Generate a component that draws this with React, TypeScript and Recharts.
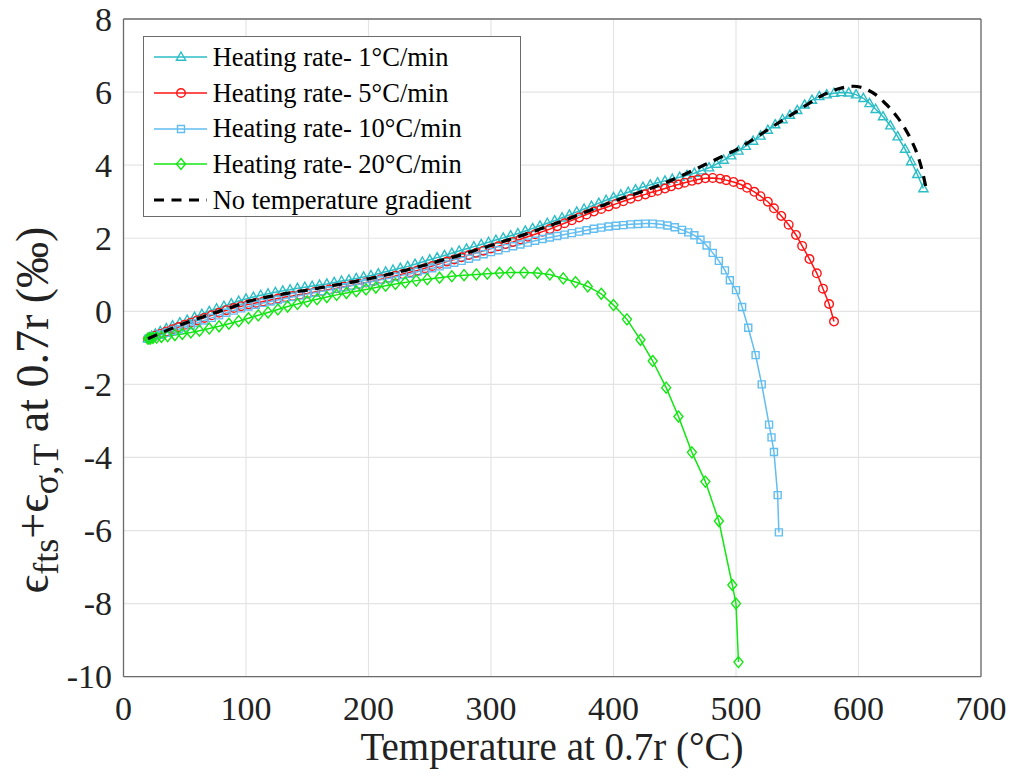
import React from 'react';
import { LineChart, Line, XAxis, YAxis, CartesianGrid, Legend } from 'recharts';

// Heating rate 1 °C/min (cyan, triangles)
const rate1Temp = [20, 21, 23, 26, 30, 35, 40, 46, 52, 58, 64, 70, 76, 82, 88, 94, 100, 106, 112, 118, 124, 130, 136, 142, 148, 154, 160, 166, 172, 178, 184, 190, 196, 202, 208, 214, 220, 226, 232, 238, 244, 250, 256, 262, 268, 274, 280, 286, 292, 298, 304, 310, 316, 322, 328, 334, 340, 346, 352, 358, 364, 370, 376, 382, 388, 394, 400, 406, 412, 418, 424, 430, 436, 442, 448, 454, 460, 466, 472, 478, 484, 490, 496, 502, 508, 514, 520, 526, 532, 538, 544, 550, 556, 562, 568, 574, 580, 586, 592, 598, 604, 609, 614, 620, 626, 632, 638, 643, 648, 653];
const rate1Strain = [-0.75, -0.72, -0.68, -0.62, -0.55, -0.47, -0.39, -0.31, -0.24, -0.16, -0.08, 0.0, 0.07, 0.14, 0.21, 0.28, 0.34, 0.39, 0.44, 0.48, 0.52, 0.56, 0.59, 0.63, 0.66, 0.69, 0.72, 0.75, 0.79, 0.83, 0.86, 0.9, 0.94, 0.98, 1.03, 1.08, 1.13, 1.18, 1.23, 1.29, 1.35, 1.41, 1.47, 1.53, 1.59, 1.65, 1.71, 1.77, 1.83, 1.89, 1.95, 2.01, 2.07, 2.13, 2.2, 2.27, 2.34, 2.41, 2.48, 2.56, 2.64, 2.72, 2.8, 2.88, 2.96, 3.04, 3.12, 3.19, 3.26, 3.33, 3.4, 3.46, 3.52, 3.57, 3.62, 3.67, 3.72, 3.78, 3.85, 3.93, 4.03, 4.14, 4.26, 4.39, 4.52, 4.66, 4.8, 4.96, 5.11, 5.25, 5.37, 5.5, 5.65, 5.78, 5.88, 5.93, 5.97, 5.99, 5.98, 5.93, 5.83, 5.69, 5.53, 5.33, 5.08, 4.78, 4.44, 4.1, 3.75, 3.36];

// Heating rate 5 °C/min (red, circles)
const rate5Temp = [20, 21, 23, 26, 30, 35, 40, 45, 50, 55, 60, 66, 72, 78, 84, 90, 96, 102, 108, 114, 120, 126, 132, 138, 144, 150, 156, 162, 168, 174, 180, 186, 192, 198, 204, 210, 216, 222, 228, 234, 240, 246, 252, 258, 264, 270, 276, 282, 288, 294, 300, 306, 312, 318, 324, 330, 336, 342, 348, 354, 360, 366, 372, 378, 384, 390, 396, 402, 408, 414, 420, 426, 431, 436, 442, 447, 453, 458, 464, 469, 475, 481, 487, 492, 498, 504, 509, 515, 520, 526, 531, 537, 543, 549, 554, 560, 566, 571, 576, 580];
const rate5Strain = [-0.75, -0.73, -0.71, -0.67, -0.62, -0.55, -0.49, -0.43, -0.37, -0.31, -0.25, -0.18, -0.11, -0.04, 0.03, 0.09, 0.14, 0.19, 0.23, 0.27, 0.31, 0.35, 0.39, 0.42, 0.46, 0.49, 0.53, 0.56, 0.6, 0.63, 0.67, 0.71, 0.75, 0.79, 0.83, 0.88, 0.92, 0.97, 1.02, 1.07, 1.12, 1.18, 1.24, 1.3, 1.36, 1.42, 1.48, 1.54, 1.6, 1.66, 1.72, 1.78, 1.84, 1.9, 1.97, 2.04, 2.11, 2.18, 2.25, 2.33, 2.41, 2.49, 2.57, 2.65, 2.73, 2.8, 2.87, 2.94, 3.01, 3.08, 3.14, 3.2, 3.26, 3.3, 3.36, 3.42, 3.47, 3.52, 3.57, 3.61, 3.64, 3.65, 3.63, 3.59, 3.54, 3.47, 3.38, 3.27, 3.15, 3.0, 2.82, 2.61, 2.37, 2.09, 1.79, 1.43, 1.04, 0.62, 0.2, -0.28];

// Heating rate 10 °C/min (light blue, squares)
const rate10Temp = [20, 21, 23, 26, 30, 35, 40, 45, 50, 55, 60, 66, 72, 78, 84, 90, 96, 102, 108, 114, 120, 126, 132, 138, 144, 150, 156, 162, 168, 174, 180, 186, 192, 198, 204, 210, 216, 222, 228, 234, 240, 246, 252, 258, 264, 270, 276, 282, 288, 294, 300, 306, 312, 318, 324, 330, 336, 342, 348, 354, 360, 366, 372, 378, 384, 390, 396, 402, 408, 414, 420, 426, 432, 438, 444, 450, 456, 461, 466, 471, 476, 481, 486, 491, 495, 500, 505, 510, 516, 521, 527, 529, 531, 534, 535];
const rate10Strain = [-0.75, -0.74, -0.71, -0.68, -0.64, -0.59, -0.54, -0.49, -0.44, -0.38, -0.32, -0.25, -0.18, -0.11, -0.04, 0.02, 0.08, 0.13, 0.18, 0.23, 0.27, 0.31, 0.35, 0.39, 0.43, 0.47, 0.51, 0.55, 0.58, 0.62, 0.66, 0.7, 0.74, 0.78, 0.82, 0.86, 0.9, 0.94, 0.99, 1.03, 1.08, 1.13, 1.18, 1.23, 1.28, 1.33, 1.38, 1.44, 1.5, 1.56, 1.62, 1.67, 1.73, 1.78, 1.83, 1.88, 1.93, 1.98, 2.02, 2.06, 2.1, 2.14, 2.18, 2.22, 2.26, 2.29, 2.32, 2.34, 2.36, 2.38, 2.39, 2.4, 2.4, 2.38, 2.35, 2.3, 2.23, 2.16, 2.08, 1.96, 1.8, 1.6, 1.38, 1.12, 0.85, 0.58, 0.12, -0.45, -1.2, -2.0, -3.1, -3.45, -3.85, -5.03, -6.05];

// Heating rate 20 °C/min (green, diamonds)
const rate20Temp = [20, 21, 22, 24, 27, 31, 36, 42, 48, 55, 62, 70, 78, 86, 94, 102, 110, 118, 126, 134, 142, 150, 158, 166, 174, 182, 190, 198, 206, 214, 222, 230, 239, 248, 258, 268, 278, 288, 297, 307, 316, 327, 338, 348, 359, 369, 379, 390, 400, 411, 422, 432, 443, 453, 464, 475, 486, 497, 500, 502];
const rate20Strain = [-0.75, -0.74, -0.74, -0.73, -0.72, -0.7, -0.68, -0.65, -0.62, -0.58, -0.53, -0.47, -0.41, -0.34, -0.27, -0.19, -0.11, -0.03, 0.05, 0.13, 0.2, 0.27, 0.33, 0.39, 0.45, 0.5, 0.55, 0.6, 0.65, 0.7, 0.75, 0.79, 0.84, 0.88, 0.92, 0.96, 0.99, 1.01, 1.03, 1.05, 1.06, 1.06, 1.05, 1.01, 0.9, 0.8, 0.68, 0.48, 0.17, -0.22, -0.78, -1.36, -2.09, -2.88, -3.86, -4.66, -5.74, -7.49, -8.0, -9.6];

// No temperature gradient (black dashed)
const refTemp = [20, 30, 40, 50, 60, 70, 80, 90, 100, 110, 120, 130, 140, 150, 160, 170, 180, 190, 200, 210, 220, 230, 240, 250, 260, 270, 280, 290, 300, 310, 320, 330, 340, 350, 360, 370, 380, 390, 400, 410, 420, 430, 440, 450, 460, 470, 480, 490, 500, 510, 520, 530, 540, 550, 560, 570, 580, 590, 596, 602, 608, 614, 620, 626, 632, 638, 644, 648, 652, 655];
const refStrain = [-0.75, -0.6, -0.46, -0.33, -0.21, -0.09, 0.02, 0.13, 0.25, 0.34, 0.41, 0.47, 0.53, 0.58, 0.64, 0.7, 0.76, 0.82, 0.89, 0.96, 1.04, 1.12, 1.21, 1.3, 1.4, 1.49, 1.59, 1.7, 1.8, 1.91, 2.02, 2.13, 2.25, 2.37, 2.49, 2.62, 2.75, 2.88, 3.01, 3.13, 3.24, 3.36, 3.49, 3.63, 3.78, 3.94, 4.1, 4.26, 4.42, 4.62, 4.84, 5.06, 5.27, 5.48, 5.7, 5.9, 6.05, 6.14, 6.16, 6.13, 6.05, 5.93, 5.75, 5.55, 5.3, 5.0, 4.62, 4.3, 3.85, 3.4];

const xTicks = [0, 100, 200, 300, 400, 500, 600, 700];
const yTicks = [-10, -8, -6, -4, -2, 0, 2, 4, 6, 8];

const zip = (t: number[], v: number[]) => t.map((x, i) => ({ t: x, y: v[i] }));

const rate1Data = zip(rate1Temp, rate1Strain);
const rate5Data = zip(rate5Temp, rate5Strain);
const rate10Data = zip(rate10Temp, rate10Strain);
const rate20Data = zip(rate20Temp, rate20Strain);
const refData = zip(refTemp, refStrain);

const SERIF = '"Liberation Serif", "Times New Roman", serif';
const FRAME = '#6b6b6b';
const TEXT = '#222';

const CYAN = '#2cbdc6';
const RED = '#ff1414';
const LIGHTBLUE = '#62bdf0';
const GREEN = '#14e614';

const W = 1016;
const H = 778;
const MARGIN = { top: 19, right: 35, bottom: 41.3, left: 0 };

type Shape = 'triangle' | 'circle' | 'square' | 'diamond';

const markerPath = (shape: Shape, cx: number, cy: number) => {
  switch (shape) {
    case 'triangle':
      return `M${cx},${cy - 5} L${cx + 4.6},${cy + 3.2} L${cx - 4.6},${cy + 3.2} Z`;
    case 'square':
      return `M${cx - 3.5},${cy - 3.5} h7 v7 h-7 Z`;
    case 'diamond':
      return `M${cx},${cy - 5.5} L${cx + 4.5},${cy} L${cx},${cy + 5.5} L${cx - 4.5},${cy} Z`;
    default:
      return `M${cx - 4.3},${cy} a4.3,4.3 0 1,0 8.6,0 a4.3,4.3 0 1,0 -8.6,0`;
  }
};

const makeDot = (shape: Shape, color: string) => (props: any) => {
  const { cx, cy, index } = props;
  if (cx == null || cy == null) return <g key={`m-${index}`} />;
  return <path key={`m-${index}`} d={markerPath(shape, cx, cy)} fill="none" stroke={color} strokeWidth={1.4} />;
};

const legendRows = [
  { label: 'Heating rate- 1°C/min', color: CYAN, shape: 'triangle' as Shape },
  { label: 'Heating rate- 5°C/min', color: RED, shape: 'circle' as Shape },
  { label: 'Heating rate- 10°C/min', color: LIGHTBLUE, shape: 'square' as Shape },
  { label: 'Heating rate- 20°C/min', color: GREEN, shape: 'diamond' as Shape },
  { label: 'No temperature gradient', color: '#000', shape: null },
];

const LegendBox = () => (
  <div
    style={{
      width: 378,
      height: 181,
      boxSizing: 'border-box',
      border: `1.3px solid ${FRAME}`,
      background: '#fff',
      paddingTop: 3,
      fontFamily: SERIF,
      fontSize: 26.5,
      color: '#000',
    }}
  >
    {legendRows.map((r) => (
      <div key={r.label} style={{ height: 35.6, display: 'flex', alignItems: 'center' }}>
        <svg width={69} height={20} style={{ flex: 'none' }}>
          {r.shape ? (
            <>
              <line x1={10} y1={10} x2={63} y2={10} stroke={r.color} strokeWidth={1.5} />
              <path d={markerPath(r.shape, 37, 10)} fill="none" stroke={r.color} strokeWidth={1.4} />
            </>
          ) : (
            <line x1={10} y1={10} x2={63} y2={10} stroke="#000" strokeWidth={3.2} strokeDasharray="10 7.5" />
          )}
        </svg>
        <span style={{ whiteSpace: 'nowrap', lineHeight: 1 }}>{r.label}</span>
      </div>
    ))}
  </div>
);

const LAT = 'Liberation Serif';

const YLabel = () => (
  <text
    x={48}
    y={410}
    transform="rotate(-90, 48, 410)"
    textAnchor="middle"
    fontFamily={LAT}
    fontSize={46}
    fill={TEXT}
  >
    <tspan fontFamily={LAT}>ϵ</tspan>
    <tspan fontFamily={LAT} fontSize={36} dy={10}>fts</tspan>
    <tspan fontFamily={LAT} dy={-10}>+ϵ</tspan>
    <tspan fontFamily={LAT} fontSize={36} dy={10}>σ,T</tspan>
    <tspan fontFamily={LAT} dy={-10}> at 0.7r (‰)</tspan>
  </text>
);

const XLabel = () => (
  <text x={552} y={760} textAnchor="middle" style={{ fontFamily: SERIF, fontSize: 39, fill: TEXT }}>
    Temperature at 0.7r (°C)
  </text>
);

const XTick = (props: any) => (
  <text x={props.x} y={props.y} dy="0.71em" textAnchor="middle" style={{ fontFamily: SERIF, fontSize: 34, fill: TEXT }}>
    {props.payload.value}
  </text>
);

const YTick = (props: any) => (
  <text x={props.x} y={props.y} dy="0.34em" textAnchor="end" style={{ fontFamily: SERIF, fontSize: 34, fill: TEXT }}>
    {props.payload.value}
  </text>
);

const frameLine = { stroke: FRAME, strokeWidth: 1.3 };

export default function App() {
  return (
    <div style={{ position: 'absolute', left: 0, top: 0, width: W, height: H, background: '#fff' }}>
      <div style={{ position: 'absolute', left: 0, top: 0 }}>
        <LineChart width={W} height={H} margin={MARGIN}>
          <CartesianGrid stroke="#e4e4e4" strokeWidth={1.2} />
          <XAxis
            dataKey="t"
            type="number"
            domain={[0, 700]}
            ticks={xTicks}
            allowDataOverflow
            tickLine={false}
            axisLine={false}
            tickSize={0}
            tickMargin={19}
            height={60}
            tick={<XTick />}
            label={{ content: () => <XLabel /> }}
          />
          <XAxis xAxisId="xb" type="number" domain={[0, 700]} ticks={xTicks} mirror tick={false} tickSize={8}
            tickLine={frameLine} axisLine={frameLine} />
          <XAxis xAxisId="xt" orientation="top" type="number" domain={[0, 700]} ticks={xTicks} mirror tick={false} tickSize={8}
            tickLine={frameLine} axisLine={frameLine} />
          <YAxis
            type="number"
            domain={[-10, 8]}
            ticks={yTicks}
            allowDataOverflow
            tickLine={false}
            axisLine={false}
            tickSize={0}
            tickMargin={11.5}
            width={123.5}
            tick={<YTick />}
            label={{ content: () => <YLabel /> }}
          />
          <YAxis yAxisId="yl" type="number" domain={[-10, 8]} ticks={yTicks} mirror tick={false} tickSize={8}
            tickLine={frameLine} axisLine={frameLine} />
          <YAxis yAxisId="yr" orientation="right" type="number" domain={[-10, 8]} ticks={yTicks} mirror tick={false} tickSize={8}
            tickLine={frameLine} axisLine={frameLine} />

          <Line name="Heating rate- 1°C/min" data={rate1Data} dataKey="y" type="linear" stroke={CYAN} strokeWidth={1.5}
            dot={makeDot('triangle', CYAN)} activeDot={false} isAnimationActive={false} />
          <Line name="Heating rate- 5°C/min" data={rate5Data} dataKey="y" type="linear" stroke={RED} strokeWidth={1.5}
            dot={makeDot('circle', RED)} activeDot={false} isAnimationActive={false} />
          <Line name="Heating rate- 10°C/min" data={rate10Data} dataKey="y" type="linear" stroke={LIGHTBLUE} strokeWidth={1.5}
            dot={makeDot('square', LIGHTBLUE)} activeDot={false} isAnimationActive={false} />
          <Line name="Heating rate- 20°C/min" data={rate20Data} dataKey="y" type="linear" stroke={GREEN} strokeWidth={1.5}
            dot={makeDot('diamond', GREEN)} activeDot={false} isAnimationActive={false} />

          <Legend
            layout="vertical"
            align="center"
            verticalAlign="middle"
            content={() => <LegendBox />}
            wrapperStyle={{ left: 142.7, top: 35.7, width: 378, height: 181 }}
          />
        </LineChart>
      </div>
      {/* the dashed reference curve sits on top of all markers, as in the original */}
      <div style={{ position: 'absolute', left: 0, top: 0, pointerEvents: 'none' }}>
        <LineChart width={W} height={H} margin={MARGIN}>
          <XAxis dataKey="t" type="number" domain={[0, 700]} ticks={xTicks} allowDataOverflow
            tick={false} tickLine={false} axisLine={false} height={60} />
          <YAxis type="number" domain={[-10, 8]} ticks={yTicks} allowDataOverflow
            tick={false} tickLine={false} axisLine={false} width={123.5} />
          <Line name="No temperature gradient" data={refData} dataKey="y" type="monotone" stroke="#000" strokeWidth={3.2}
            strokeDasharray="10 7.5" dot={false} activeDot={false} isAnimationActive={false} />
        </LineChart>
      </div>
    </div>
  );
}
